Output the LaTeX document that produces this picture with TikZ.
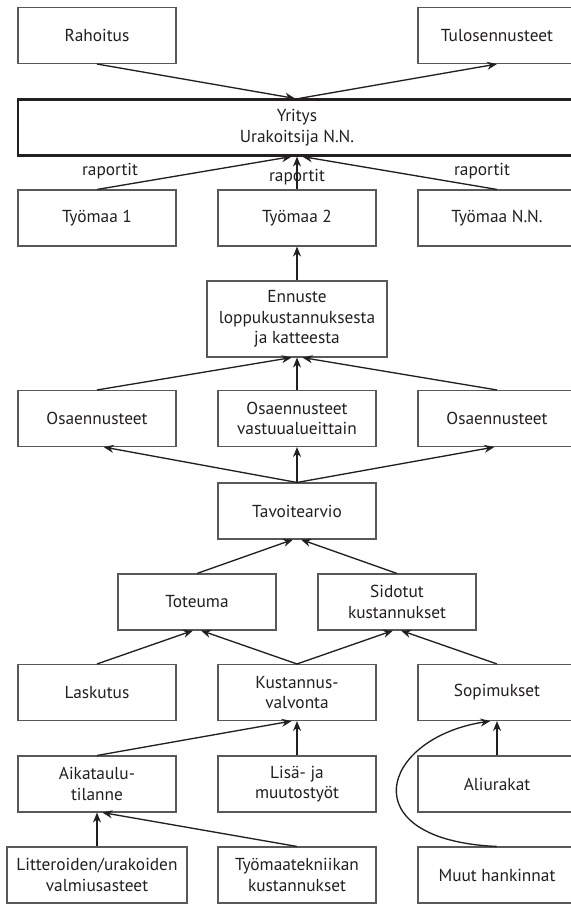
\documentclass[tikz,border=0pt]{standalone}
\usepackage{fontspec}
\setmainfont{PT Sans}
\usetikzlibrary{arrows.meta}
\definecolor{viiva}{HTML}{231F20}

\begin{document}
\begin{tikzpicture}[x=0.75pt,y=-0.75pt,
    laatikko/.style={draw=black!65,line width=0.8pt,minimum width=118.5pt,minimum height=42pt,
      align=center,inner sep=1pt,text=viiva,font=\fontsize{13}{15.5}\selectfont},
    nuoli/.style={->,>={Stealth[length=7.5pt,width=6pt]},line width=1pt,draw=viiva},
    teksti/.style={text=viiva,font=\fontsize{13}{15.5}\selectfont}]
        \clip (0,0) rectangle (571,904);

        % 上段
        \node[laatikko] (rahoitus) at (97,35.5) {Rahoitus};
        \node[laatikko] (tulos) at (497,35.5) {Tulosennusteet};
        \node[laatikko,minimum width=418.5pt,draw=viiva,line width=1.6pt] (yritys) at (297,127.5) {Yritys\\Urakoitsija N.N.};

        % 工事現場
        \node[laatikko] (tyomaa1) at (97,218) {Työmaa 1};
        \node[laatikko] (tyomaa2) at (297,218) {Työmaa 2};
        \node[laatikko] (tyomaa3) at (497,218) {Työmaa N.N.};
        \node[teksti] (rap1) at (110,171) {raportit};
        \node[teksti] (rap2) at (297,177) {raportit};
        \node[teksti] (rap3) at (482,171) {raportit};

        % 予測
        \node[laatikko,minimum width=135pt,minimum height=57pt] (ennuste) at (297,319) {Ennuste\\loppukustannuksesta\\ja katteesta};
        \node[laatikko] (osa1) at (97,418.5) {Osaennusteet};
        \node[laatikko] (osa2) at (297,418.5) {Osaennusteet\\vastuualueittain};
        \node[laatikko] (osa3) at (497,418.5) {Osaennusteet};
        \node[laatikko] (tavoite) at (297,511) {Tavoitearvio};

        % コスト
        \node[laatikko] (toteuma) at (197,602) {Toteuma};
        \node[laatikko] (sidotut) at (397,602) {Sidotut\\kustannukset};
        \node[laatikko] (laskutus) at (97,692.5) {Laskutus};
        \node[laatikko] (kustannus) at (297,692.5) {Kustannus-\\valvonta};
        \node[laatikko] (sopimukset) at (497,692.5) {Sopimukset};

        % 下段
        \node[laatikko] (aikataulu) at (97,784) {Aikataulu-\\tilanne};
        \node[laatikko] (lisa) at (297,784) {Lisä- ja\\muutostyöt};
        \node[laatikko] (aliurakat) at (497,784) {Aliurakat};
        \node[laatikko,minimum width=135pt] (litterat) at (97,875) {Litteroiden/urakoiden\\valmiusasteet};
        \node[laatikko] (tekniikka) at (297,875) {Työmaatekniikan\\kustannukset};
        \node[laatikko] (muut) at (497,875) {Muut hankinnat};

        % 矢印
        \draw[nuoli] (rahoitus.south) -- ([xshift=-1.5pt]yritys.north);
        \draw[nuoli] ([xshift=1.5pt]yritys.north) -- (tulos.south);
        \draw[nuoli] (tyomaa1.north) -- ([xshift=-4pt]yritys.south);
        \draw[nuoli] (tyomaa2.north) -- (yritys.south);
        \draw[nuoli] (tyomaa3.north) -- ([xshift=4pt]yritys.south);
        \draw[nuoli] (ennuste.north) -- (tyomaa2.south);
        \draw[nuoli] (osa1.north) -- ([xshift=-4pt]ennuste.south);
        \draw[nuoli] (osa2.north) -- (ennuste.south);
        \draw[nuoli] (osa3.north) -- ([xshift=4pt]ennuste.south);
        \draw[nuoli] (tavoite.north) -- ([xshift=5pt]osa1.south);
        \draw[nuoli] (tavoite.north) -- (osa2.south);
        \draw[nuoli] (tavoite.north) -- ([xshift=-2pt]osa3.south);
        \draw[nuoli] (toteuma.north) -- ([xshift=-3pt]tavoite.south);
        \draw[nuoli] (sidotut.north) -- ([xshift=3pt]tavoite.south);
        \draw[nuoli] (laskutus.north) -- ([xshift=-3pt]toteuma.south);
        \draw[nuoli] (kustannus.north) -- ([xshift=3pt]toteuma.south);
        \draw[nuoli] (kustannus.north) -- ([xshift=-3pt]sidotut.south);
        \draw[nuoli] (sopimukset.north) -- ([xshift=3pt]sidotut.south);
        \draw[nuoli] (aikataulu.north) -- ([xshift=-4pt]kustannus.south);
        \draw[nuoli] (lisa.north) -- (kustannus.south);
        \draw[nuoli] (aliurakat.north) -- (sopimukset.south);
        \draw[nuoli] (muut.north) .. controls (350,840) and (380,738) .. ([xshift=-5pt]sopimukset.south);
        \draw[nuoli] (litterat.north) -- (aikataulu.south);
        \draw[nuoli] (tekniikka.north) -- ([xshift=4pt]aikataulu.south);
      \end{tikzpicture}
\end{document}
